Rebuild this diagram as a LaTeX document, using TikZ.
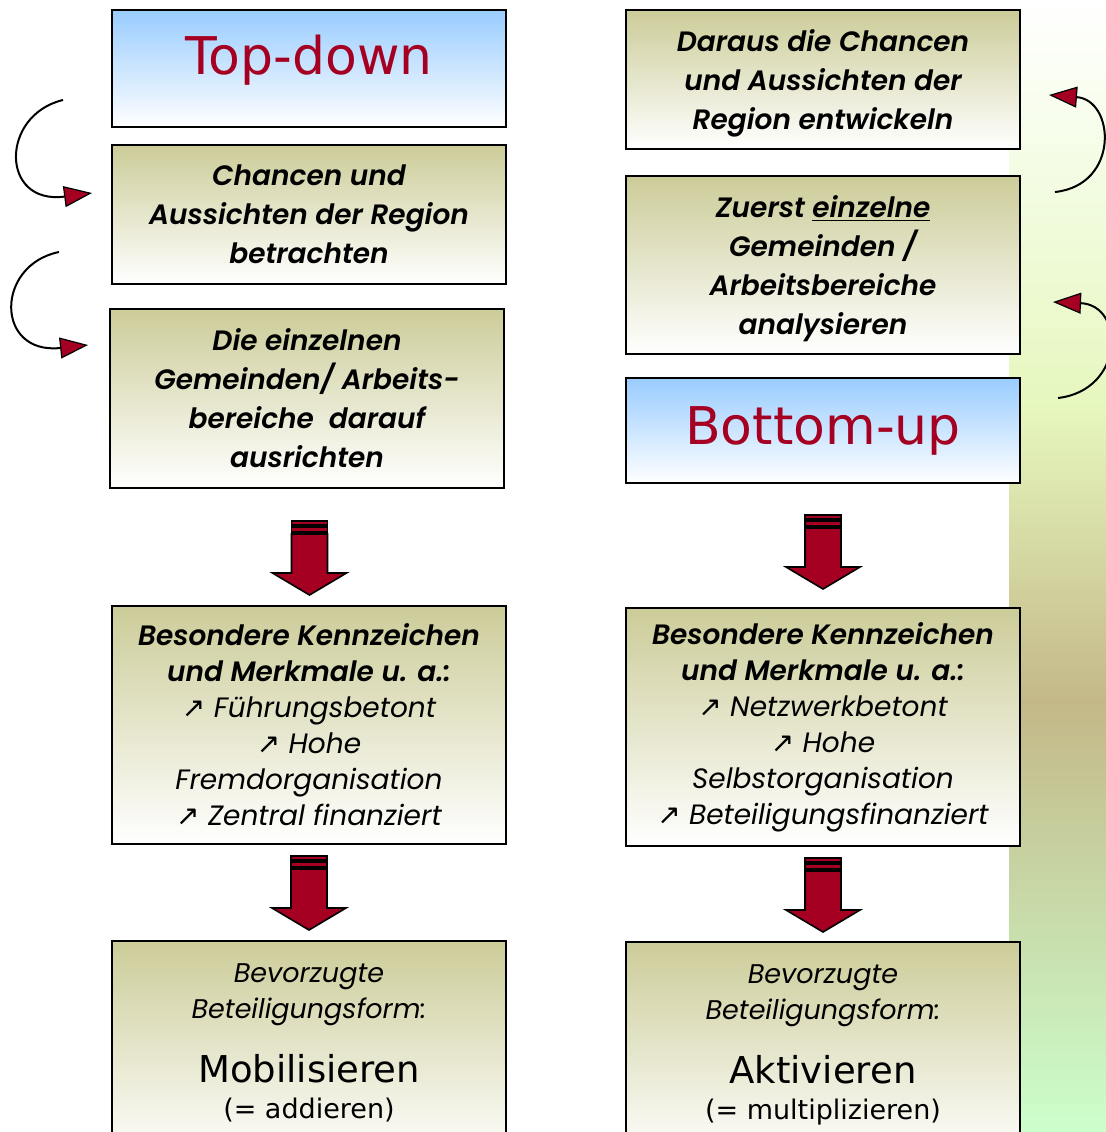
\documentclass[tikz,border=0pt]{standalone}
\usepackage{fontspec}
\setmainfont{Poppins}[BoldFont={Poppins SemiBold}, BoldItalicFont={Poppins SemiBold Italic}]
\newfontfamily\titlefont{DejaVu Sans}
\newfontfamily\symbolfont{DejaVu Sans}
\usetikzlibrary{positioning, arrows.meta}

\definecolor{boxolive}{HTML}{CCCC99}
\definecolor{boxblue}{HTML}{99CCFF}
\definecolor{darkred}{HTML}{A50021}
\definecolor{stripgreen}{HTML}{CCFFCC}
\definecolor{striptan}{HTML}{C4B888}
\definecolor{stripyellow}{HTML}{E6F7BE}
\definecolor{stripwhite}{HTML}{F3FCE2}

\pgfdeclareverticalshading{sidestrip}{100bp}{color(0bp)=(stripgreen); color(25bp)=(stripgreen); color(44bp)=(striptan); color(57bp)=(stripyellow); color(67bp)=(stripwhite); color(75bp)=(white); color(100bp)=(white)}

\newcommand{\arr}{{\symbolfont\upshape ↗}}

\tikzset{
    blockarrow/.pic={
        \draw[arrowbody] (-18,0) rectangle (18,4);
        \draw[arrowbody] (-18,6) rectangle (18,11);
        \draw[arrowbody] (-18,13) -- (18,13) -- (18,52) -- (37,52) -- (0,74) -- (-37,52) -- (-18,52) -- cycle;
    }
}

\begin{document}
\begin{tikzpicture}[
        x=0.5pt, y=-0.5pt,
        basebox/.style={rectangle, draw=black, line width=1.2pt, minimum width=197pt, inner sep=0pt, outer sep=0pt, align=center},
        olivebox/.style={basebox, top color=boxolive, bottom color=white, text depth=0pt, font=\fontsize{14}{19.5}\selectfont\bfseries\itshape},
        bluebox/.style={basebox, top color=boxblue, bottom color=white},
        titletext/.style={font=\titlefont\fontsize{26}{30}\selectfont, text=darkred},
        listtext/.style={font=\fontsize{14}{18}\selectfont\bfseries\itshape, align=center},
        prefertext/.style={font=\fontsize{13.5}{18}\selectfont\itshape, align=center, anchor=north},
        arrowbody/.style={draw=black, line width=0.8pt, fill=darkred},
        curvearrow/.style={line width=1pt, -{Triangle[length=14pt, width=10.5pt, fill=darkred, line width=0.6pt]}}
    ]
    \useasboundingbox (0,0) rectangle (1106,1132);

    % Farbstreifen rechts
    \shade[shading=sidestrip] (1009,0) rectangle (1106,1132);

    % TOP-DOWN
    \node[bluebox, minimum height=58.5pt] (tdl) at (309,68.5) {};
    \node[titletext] (tdt) at ([yshift=4pt]tdl.center) {Top-down};
    \node[olivebox, minimum height=69.5pt, below=9pt of tdl] (chl) {Chancen und\\Aussichten der Region\\betrachten};
    \node[olivebox, minimum height=89.5pt, below=12.5pt of chl, xshift=-1pt] (gel) {Die einzelnen\\Gemeinden/ Arbeits-\\bereiche\ \ darauf\\ausrichten};
    \node[olivebox, minimum height=119pt, below=59pt of gel, xshift=1pt] (mkl) {};
    \node[listtext] at (mkl.center) {Besondere Kennzeichen\\und Merkmale u. a.:\\{\mdseries\arr\ Führungsbetont}\\{\mdseries\arr\ Hohe}\\{\mdseries Fremdorganisation}\\{\mdseries\arr\ Zentral finanziert}};
    \node[olivebox, minimum height=109.5pt, below=48.5pt of mkl] (bfl) {};
    \node[prefertext] at ([yshift=-8pt]bfl.north) {Bevorzugte\\Beteiligungsform:\\[14pt]{\titlefont\upshape\fontsize{18.5}{22}\selectfont Mobilisieren}\\{\titlefont\upshape\fontsize{13.5}{16}\selectfont (= addieren)}};

    % BOTTOM-UP
    \node[olivebox, minimum height=69.5pt] (dar) at (823,79.5) {Daraus die Chancen\\und Aussichten der\\Region entwickeln};
    \node[olivebox, minimum height=89pt, below=13.5pt of dar] (zer) {Zuerst \underline{einzelne}\\Gemeinden /\\Arbeitsbereiche\\analysieren};
    \node[bluebox, minimum height=52.5pt, below=12pt of zer, titletext] (bur) {Bottom-up};
    \node[olivebox, minimum height=119pt, below=62.5pt of bur] (mkr) {};
    \node[listtext] at (mkr.center) {Besondere Kennzeichen\\und Merkmale u. a.:\\{\mdseries\arr\ Netzwerkbetont}\\{\mdseries\arr\ Hohe}\\{\mdseries Selbstorganisation}\\{\mdseries\arr\ Beteiligungsfinanziert}};
    \node[olivebox, minimum height=109pt, below=48pt of mkr] (bfr) {};
    \node[prefertext] at ([yshift=-8pt]bfr.north) {Bevorzugte\\Beteiligungsform:\\[14pt]{\titlefont\upshape\fontsize{18.5}{22}\selectfont Aktivieren}\\{\titlefont\upshape\fontsize{13.5}{16}\selectfont (= multiplizieren)}};

    % Blockpfeile
    \pic at ([xshift=1.25pt, yshift=-16.5pt]gel.south) {blockarrow};
    \pic at ([yshift=-6pt]mkl.south) {blockarrow};
    \pic at ([yshift=-16pt]bur.south) {blockarrow};
    \pic at ([yshift=-6pt]mkr.south) {blockarrow};

    % Bogenpfeile
    \coordinate (la1) at (63,100);
    \coordinate (lb1) at (92,193);
    \coordinate (la2) at (59,252);
    \coordinate (lb2) at (88,345);
    \coordinate (ra1) at (1055,192);
    \coordinate (rb1) at (1049,95);
    \coordinate (ra2) at (1058,398);
    \coordinate (rb2) at (1053,302);
    \draw[curvearrow] (la1) .. controls (0,115) and (0,205) .. (lb1);
    \draw[curvearrow] (la2) .. controls (-5,265) and (-5,355) .. (lb2);
    \draw[curvearrow] (ra1) .. controls (1120,185) and (1115,100) .. (rb1);
    \draw[curvearrow] (ra2) .. controls (1125,390) and (1125,305) .. (rb2);
\end{tikzpicture}
\end{document}
